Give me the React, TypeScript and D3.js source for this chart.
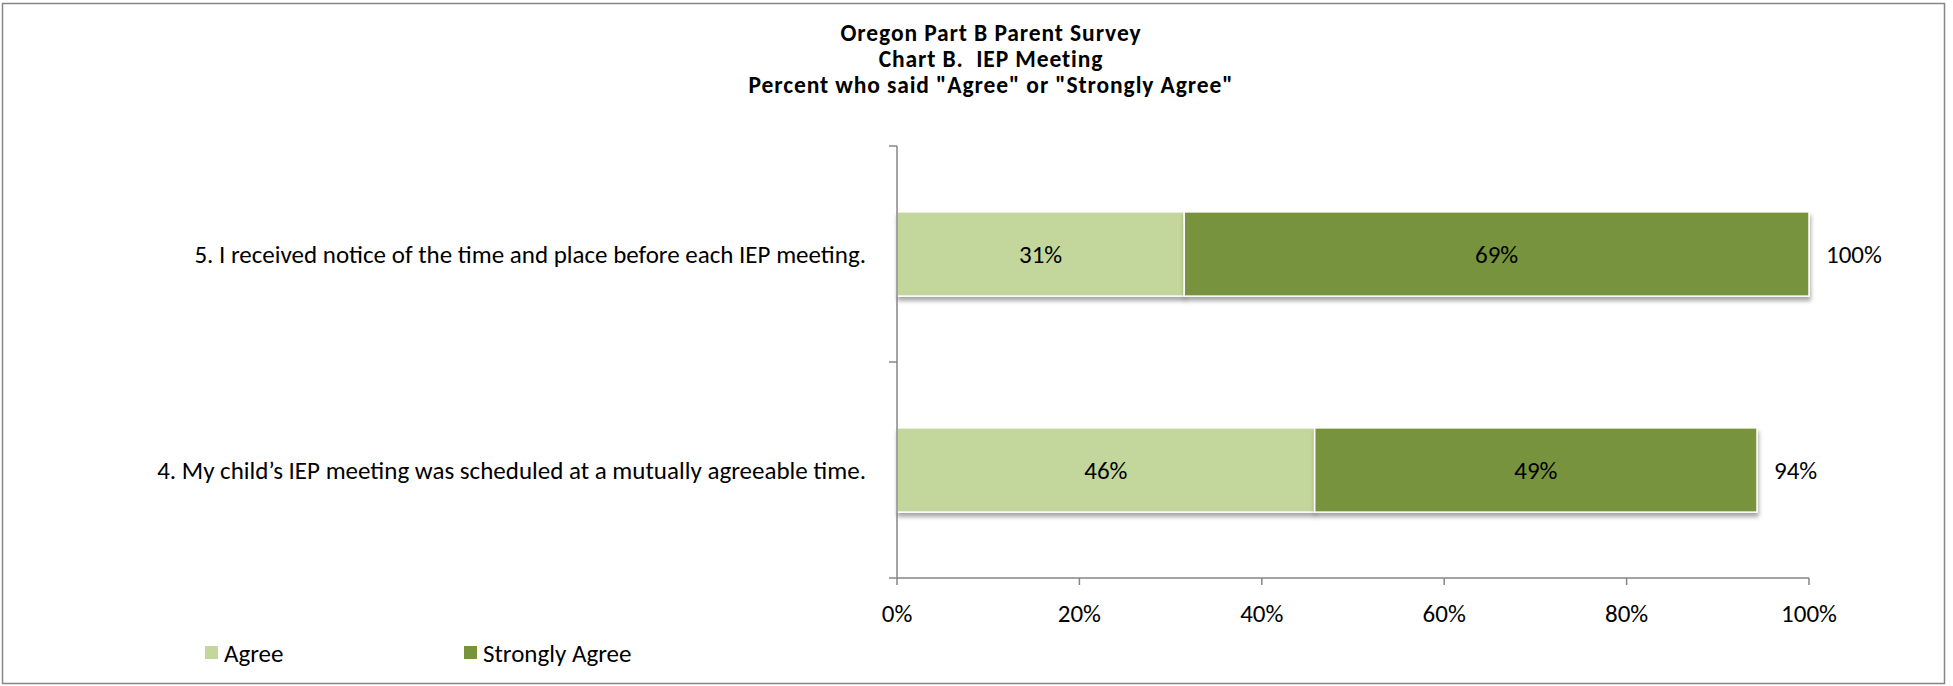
import React from 'react';
import * as d3 from 'd3';

const categories = [
  '5. I received notice of the time and place before each IEP meeting.',
  '4. My child\u2019s IEP meeting was scheduled at a mutually agreeable time.',
];
const agree = [31.5, 45.8];
const stronglyAgree = [68.5, 48.5];
const totalLabels = ['100%', '94%'];
const agreeLabels = ['31%', '46%'];
const strongLabels = ['69%', '49%'];
const xTicks = [0, 20, 40, 60, 80, 100];
const seriesNames = ['Agree', 'Strongly Agree'];
const titleLines = [
  'Oregon Part B Parent Survey',
  'Chart B.  IEP Meeting',
  'Percent who said "Agree" or "Strongly Agree"',
];

const W = 1953;
const H = 686;
const FONT = 'Carlito, Calibri, Lato, sans-serif';
const FS = 25;
const LIGHT = '#c3d69b';
const DARK = '#77933c';
const AXIS = '#868686';

const App: React.FC = () => {
  const margin = { top: 146, left: 897, right: 1809, bottom: 578 };

  const x = d3.scaleLinear().domain([0, 100]).range([margin.left, margin.right]);
  const y = d3.scaleBand<string>()
    .domain(categories)
    .range([margin.top, margin.bottom])
    .paddingInner(0.61)
    .paddingOuter(0.305);
  const bandStep = y.step();
  const color = d3.scaleOrdinal<string, string>().domain(seriesNames).range([LIGHT, DARK]);

  const stacked = d3.stack<number>()
    .keys(['0', '1'])
    .value((i, key) => (key === '0' ? agree[i] : stronglyAgree[i]))(d3.range(categories.length));

  const segLabels = [agreeLabels, strongLabels];

  return (
    <svg width={W} height={H} style={{ position: 'absolute', left: 0, top: 0, background: '#fff' }}>
      <defs>
        <filter id="shadow" x="-5%" y="-20%" width="110%" height="150%">
          <feDropShadow dx="1" dy="4" stdDeviation="2" floodColor="#000" floodOpacity="0.35" />
        </filter>
      </defs>
      <rect x={2.5} y={3.5} width={1942} height={680} fill="#fff" stroke={AXIS} strokeWidth={1.5} />

      {titleLines.map((t, i) => (
        <text key={i} x={991} y={33 + i * 26} textAnchor="middle" dominantBaseline="central"
          fontFamily={FONT} fontWeight="bold" fontSize={23.5} letterSpacing={0.9} fill="#000"
          style={{ whiteSpace: 'pre' }}>{t}</text>
      ))}

      {/* bars */}
      {stacked.map((layer, si) => (
        <g key={si}>
          {layer.map((d, i) => {
            const y0 = y(categories[i])!;
            return (
              <g key={i}>
                <rect x={x(d[0])} y={y0} width={x(d[1]) - x(d[0])} height={y.bandwidth()}
                  fill={color(seriesNames[si])} stroke="#fff" strokeWidth={1.5} filter="url(#shadow)" />
                <text x={(x(d[0]) + x(d[1])) / 2} y={y0 + y.bandwidth() / 2} textAnchor="middle"
                  dominantBaseline="central" fontFamily={FONT} fontSize={FS} fill="#000">{segLabels[si][i]}</text>
              </g>
            );
          })}
        </g>
      ))}

      {/* totals */}
      {categories.map((c, i) => (
        <text key={c} x={x(agree[i] + stronglyAgree[i]) + 17} y={y(c)! + y.bandwidth() / 2}
          dominantBaseline="central" fontFamily={FONT} fontSize={FS} fill="#000">{totalLabels[i]}</text>
      ))}

      {/* category labels */}
      {categories.map((c) => (
        <text key={c} x={866} y={y(c)! + y.bandwidth() / 2} textAnchor="end"
          dominantBaseline="central" fontFamily={FONT} fontSize={FS} fill="#000">{c}</text>
      ))}

      {/* y axis */}
      <line x1={margin.left} x2={margin.left} y1={margin.top} y2={margin.bottom} stroke={AXIS} strokeWidth={1.5} />
      {d3.range(categories.length + 1).map((k) => (
        <line key={k} x1={margin.left - 8} x2={margin.left} y1={margin.top + k * bandStep}
          y2={margin.top + k * bandStep} stroke={AXIS} strokeWidth={1.5} />
      ))}

      {/* x axis */}
      <line x1={margin.left} x2={margin.right} y1={margin.bottom} y2={margin.bottom} stroke={AXIS} strokeWidth={1.5} />
      {xTicks.map((t) => (
        <g key={t}>
          <line x1={x(t)} x2={x(t)} y1={margin.bottom} y2={margin.bottom + 7} stroke={AXIS} strokeWidth={1.5} />
          <text x={x(t)} y={613} textAnchor="middle" dominantBaseline="central"
            fontFamily={FONT} fontSize={FS} fill="#000">{`${t}%`}</text>
        </g>
      ))}

      {/* legend */}
      {seriesNames.map((s, i) => {
        const lx = i === 0 ? 205 : 464;
        return (
          <g key={s}>
            <rect x={lx} y={646} width={13} height={13} fill={color(s)} />
            <text x={lx + 19} y={653} dominantBaseline="central" fontFamily={FONT} fontSize={FS} fill="#000">{s}</text>
          </g>
        );
      })}
    </svg>
  );
};

export default App;
